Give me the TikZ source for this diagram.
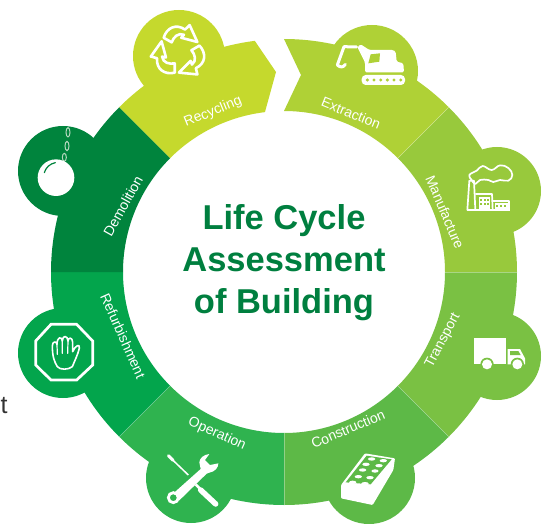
\documentclass[tikz,border=0pt]{standalone}
\usepackage{fontspec}
\setmainfont{Liberation Sans}
\definecolor{cRecy}{HTML}{C5D92D}
\definecolor{cExtr}{HTML}{AFD136}
\definecolor{cManu}{HTML}{98C93C}
\definecolor{cTran}{HTML}{7AC143}
\definecolor{cCons}{HTML}{5DB947}
\definecolor{cOper}{HTML}{2FB34F}
\definecolor{cRefu}{HTML}{03A54C}
\definecolor{cDemo}{HTML}{00843D}
\definecolor{cTitle}{HTML}{007F3F}
\definecolor{cChain}{HTML}{B5D8BE}
\tikzset{
  seglabel/.style={text=white,font=\fontsize{14}{16}\selectfont,inner sep=0pt},
  iconline/.style={draw=white,line join=round,line cap=round},
  iconfill/.style={fill=white,draw=none},
}
\newcommand{\ringseg}[3]{\fill[#3] (#1:233) arc[start angle=#1,end angle=#2,radius=233] -- (#2:161) arc[start angle=#2,end angle=#1,radius=161] -- cycle;}
\begin{document}
\begin{tikzpicture}[x=1pt,y=-1pt]
\useasboundingbox (0,0) rectangle (549,524);
\clip (0,0) rectangle (549,524);
% bumps
\fill[cRecy] (179,56) circle[radius=46];
\fill[cExtr] (372,71) circle[radius=46];
\fill[cManu] (497,191) circle[radius=44];
\fill[cTran] (497,356) circle[radius=44];
\fill[cCons] (369,478) circle[radius=46];
\fill[cOper] (191,478) circle[radius=45];
\fill[cRefu] (63,353) circle[radius=45];
\fill[cDemo] (63,171) circle[radius=45];
% ring
\begin{scope}[shift={(284,272)},y=1pt]
\ringseg{45}{0}{cManu}
\ringseg{0}{-45}{cTran}
\ringseg{-45}{-90}{cCons}
\ringseg{-90}{-135}{cOper}
\ringseg{-135}{-180}{cRefu}
\ringseg{180}{135}{cDemo}
\fill[cRecy] (135:233) arc[start angle=135,end angle=97.2,radius=233] -- (-8,200) -- (96.8:161) arc[start angle=96.8,end angle=135,radius=161] -- cycle;
\fill[cExtr] (90:233) arc[start angle=90,end angle=45,radius=233] -- (45:161) arc[start angle=45,end angle=90,radius=161] -- (17,197) -- cycle;
\foreach \a in {45,0,-45,-90,-135}
  \draw[white,opacity=.35,line width=.4] (\a:161) -- (\a:233);
\end{scope}
% labels
\node[seglabel,rotate=22] (lrecy) at (213,112) {Recycling};
\node[seglabel,rotate=-22] (lextr) at (351,113) {Extraction};
\node[seglabel,rotate=-67] (lmanu) at (445,212) {Manufacture};
\node[seglabel,rotate=62] (ltran) at (443,341) {Transport};
\node[seglabel,rotate=23] (lcons) at (348,429) {Construction};
\node[seglabel,rotate=-24] (loper) at (217,434) {Operation};
\node[seglabel,rotate=-66] (lrefu) at (123,336) {Refurbishment};
\node[seglabel,rotate=61] (ldemo) at (123,206) {Demolition};
% title
\node[align=center,text=cTitle,font=\bfseries\fontsize{34.5}{42}\selectfont,inner sep=0pt] (title) at (284,262.5) {Life Cycle\\Assessment\\of Building};
% stray letter
\node[text=black!80,font=\fontsize{25}{28}\selectfont,inner sep=0pt] (stray) at (4,406) {t};
% recycle icon
\foreach \a in {0,120,240}
  \draw[iconline,line width=2.6,shift={(179.3,52)},rotate=\a,scale=1.15]
    (-13.6,-12.4) .. controls (-11,-21) and (-3,-25) .. (5,-19.5) -- (9,-23.4) -- (15.7,-8.7) -- (1.7,-12.4) -- (4,-15) .. controls (-1,-17) and (-5,-13) .. (-6.6,-8.4) -- cycle;
% excavator
\begin{scope}[shift={(330,35)},scale=1/3]
\fill[white,rounded corners=4pt] (95,120) rectangle (225,150);
\foreach \x in {112,132,152,172,192,212} \fill[cExtr] (\x,135) circle[radius=5];
\fill[white,rounded corners=1.5pt] (82,36) -- (92,28) -- (118,45) -- (190,45) -- (197,50) -- (200,80) -- (220,85) -- (222,112) -- (105,112) -- (105,82) -- cycle;
\fill[cExtr] (122,58) -- (150,55) -- (148,80) -- (115,85) -- cycle;
\draw[white,line width=3,line join=round,line cap=round] (80,36) -- (42,35) -- (22,90) .. controls (30,98) and (40,98) .. (46,88);
\end{scope}
% factory
\begin{scope}[shift={(460,160)},scale=1/3]
\draw[iconline,line width=1.7] (22,150) -- (28,62) -- (42,62) -- (46,150);
\draw[white,line width=2.2] (20,150) -- (150,150);
\draw[iconline,line width=1.7] (47,102) -- (96,102) -- (98,148);
\draw[iconline,line width=1.7] (98,122) -- (148,122) -- (148,150);
\fill[white] (56,112) rectangle (91,146);
\foreach \x in {60,71,82} \foreach \y in {116,128}
  \fill[cManu] (\x,\y) rectangle ++(6,8);
\fill[white] (104,130) rectangle (143,146);
\foreach \x in {109,120,131} \fill[cManu] (\x,134) rectangle ++(6,8);
\draw[iconline,line width=1.7] plot[smooth cycle,tension=.7] coordinates {(35,60) (28,45) (50,32) (68,18) (95,30) (120,16) (145,24) (157,45) (145,62) (120,60) (100,66) (85,60) (60,60) (46,72)};
\end{scope}
% truck
\begin{scope}[shift={(465,330)},scale=1/3]
\fill[white] (28,23) rectangle (122,103);
\fill[white] (128,57) -- (165,57) -- (180,85) -- (180,103) -- (128,103) -- cycle;
\fill[cTran] (135,63) -- (160,63) -- (167,75) -- (135,75) -- cycle;
\foreach \x in {66,157} {
  \fill[cTran] (\x,103) circle[radius=20];
  \fill[white] (\x,103) circle[radius=15];
}
\end{scope}
% brick
\begin{scope}[shift={(330,445)},scale=1/3]
\fill[white,rounded corners=1pt] (105,25) -- (195,40) -- (190,75) -- (128,180) -- (33,160) -- (33,120) -- cycle;
\fill[cCons] (110,32) -- (185,43) -- (122,118) -- (47,112) -- cycle;
\foreach \x/\y in {125/42,160/47,108/58,147/62,98/75,135/78,85/95,120/98,68/112,105/116}
  \fill[white] (\x,\y) ellipse[x radius=11,y radius=5];
\end{scope}
% tools
\begin{scope}[shift={(155,445)},scale=1/3]
\draw[white,line width=3,line cap=round] (40,32) -- (54,46);
\draw[white,line width=1.5] (50,42) -- (100,90);
\draw[white,line width=5.5,line cap=round] (137,135) -- (182,177);
\draw[white,line width=2.6] (122,118) -- (136,132);
\fill[white] (137,72) -- (133,52) .. controls (134,40) and (145,29) .. (163,27) -- (150,45) -- (165,60) -- (190,55) .. controls (190,68) and (180,80) .. (163,83) -- (155,86) -- (72,167) -- (53,147) -- cycle;
\fill[cOper] (55,158) circle[radius=11];
\draw[white,line width=2.8] (55,158) circle[radius=15];
\end{scope}
% stop hand
\begin{scope}[shift={(25,315)},scale=1/3]
\draw[white,line width=2.7,line join=miter] (78,28) -- (155,28) -- (203,78) -- (203,150) -- (155,195) -- (78,195) -- (32,150) -- (32,78) -- cycle;
\draw[iconline,line width=1.6] (97,155) .. controls (88,140) and (82,125) .. (82,92) .. controls (82,78) and (96,78) .. (96,88) .. controls (96,66) and (110,62) .. (112,78) .. controls (112,60) and (128,60) .. (129,78) .. controls (129,66) and (143,66) .. (143,82) -- (143,110) .. controls (150,92) and (166,84) .. (163,100) .. controls (158,120) and (150,135) .. (142,155) .. controls (130,165) and (105,165) .. (97,155) -- cycle;
\draw[iconline,line width=1.2] (96,88) -- (97,118) (112,78) -- (112,115) (129,78) -- (128,115);
\end{scope}
% wrecking ball
\begin{scope}[shift={(30,120)},scale=1/3]
\draw[cChain,line width=1] (114,37) ellipse[x radius=6,y radius=14];
\draw[cChain,line width=1] (111,78) ellipse[x radius=6,y radius=14];
\draw[cChain,line width=1] (103,112) ellipse[x radius=6,y radius=12];
\fill[white] (78,173) circle[radius=55];
\draw[cDemo,line width=1.2,line cap=round] (43,158) .. controls (47,143) and (60,131) .. (76,128);
\end{scope}
\end{tikzpicture}
\end{document}
